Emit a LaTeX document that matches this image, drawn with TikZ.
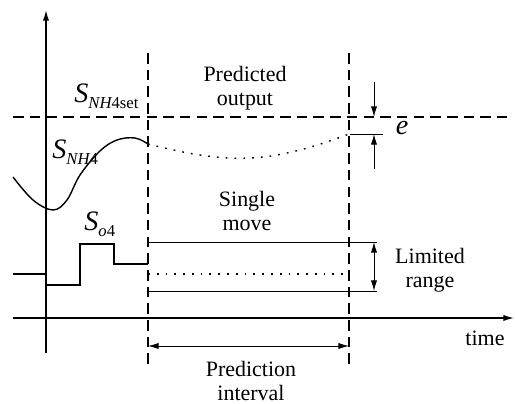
\documentclass[tikz,border=0pt]{standalone}
\usepackage{fontspec}
\setmainfont{Liberation Serif}
\usetikzlibrary{arrows.meta, positioning, calc}
\newcommand{\subtext}[1]{\raisebox{-3pt}{\fontsize{9.5}{9.5}\selectfont #1}}

\begin{document}
\begin{tikzpicture}[x=0.02cm, y=-0.02cm, >={Latex[length=6pt,width=3.5pt]}, font=\fontsize{12.5}{13.5}\selectfont]
    % Styles
    \tikzstyle{axis} = [draw, ->, line width=0.8pt]
    \tikzstyle{guide} = [draw, dash pattern=on 6pt off 3.5pt, line width=0.8pt]
    \tikzstyle{signal} = [draw, line width=0.8pt]
    \tikzstyle{predicted} = [draw, line width=0.8pt, dash pattern=on 1pt off 4pt]
    \tikzstyle{level} = [draw, line width=0.5pt]
    \tikzstyle{dim} = [draw, line width=0.5pt]
    \tikzstyle{label} = [align=center, inner sep=0pt]
    \tikzstyle{sym} = [inner sep=0pt, font=\fontsize{16}{16}\selectfont\itshape]
    \useasboundingbox (0,0) rectangle (515,404);

    % Coordinates
    \coordinate (ybot) at (46,353);
    \coordinate (ytop) at (46,10);
    \coordinate (xleft) at (13,318);
    \coordinate (xright) at (514,318);
    \coordinate (nowtop) at (148,53);
    \coordinate (nowbot) at (148,367);
    \coordinate (endtop) at (349,53);
    \coordinate (endbot) at (349,367);
    \coordinate (setl) at (13,117);
    \coordinate (setr) at (507,117);
    \coordinate (rangetop) at (374,242);
    \coordinate (rangebot) at (374,291);
    \coordinate (etop) at (374,82);
    \coordinate (eset) at (374,117);
    \coordinate (eout) at (374,134);
    \coordinate (ebot) at (374,169);
    \coordinate (intl) at (148,346);
    \coordinate (intr) at (349,346);

    % Axes and guides
    \draw [axis] (ybot) -- (ytop);
    \draw [axis] (xleft) -- (xright);
    \draw [guide] (nowtop) -- (nowbot);
    \draw [guide] (endtop) -- (endbot);
    \draw [guide] (setl) -- (setr);

    % Output
    \draw [signal] plot[smooth, tension=0.6] coordinates {(13,177) (33,200) (53,210) (67,200) (80,175) (100,151) (117,140) (135,138) (148,144)};
    \draw [predicted] plot[smooth, tension=0.7] coordinates {(148,144) (200,155) (250,158) (300,150) (349,134)};

    % Input
    \draw [signal] (13,274) -- (46,274) -- (46,285) -- (80,285) -- (80,244) -- (114,244) -- (114,264) -- (148,264);
    \draw [level] (148,242) -- (377,242);
    \draw [level] (148,291) -- (377,291);
    \draw [predicted] (148,274) -- (349,274);

    % Dimensions
    \draw [dim, <->] (rangetop) -- (rangebot);
    \draw [dim, ->] (etop) -- (eset);
    \draw [dim, ->] (ebot) -- (eout);
    \draw [dim] (350,134) -- (383,134);
    \draw [dim, <->] (intl) -- (intr);

    % Labels
    \node [sym, anchor=base west] (spset) at (74,103) {S\subtext{NH\upshape 4set}};
    \node [label] (predout) at (245,88) {Predicted\\output};
    \node [sym, anchor=base west] (snh) at (52,159) {S\subtext{NH\upshape 4}};
    \node [label] (single) at (247,211) {Single\\move};
    \node [sym, anchor=base west] (so) at (84,231) {S\subtext{o\upshape 4}};
    \node [sym] (elabel) at (402,128) {e};
    \node [label] (limited) at (430,270) {Limited\\range};
    \node [label] (timelabel) at (485,338) {time};
    \node [label] (interval) at (251,381) {Prediction\\interval};
\end{tikzpicture}
\end{document}
